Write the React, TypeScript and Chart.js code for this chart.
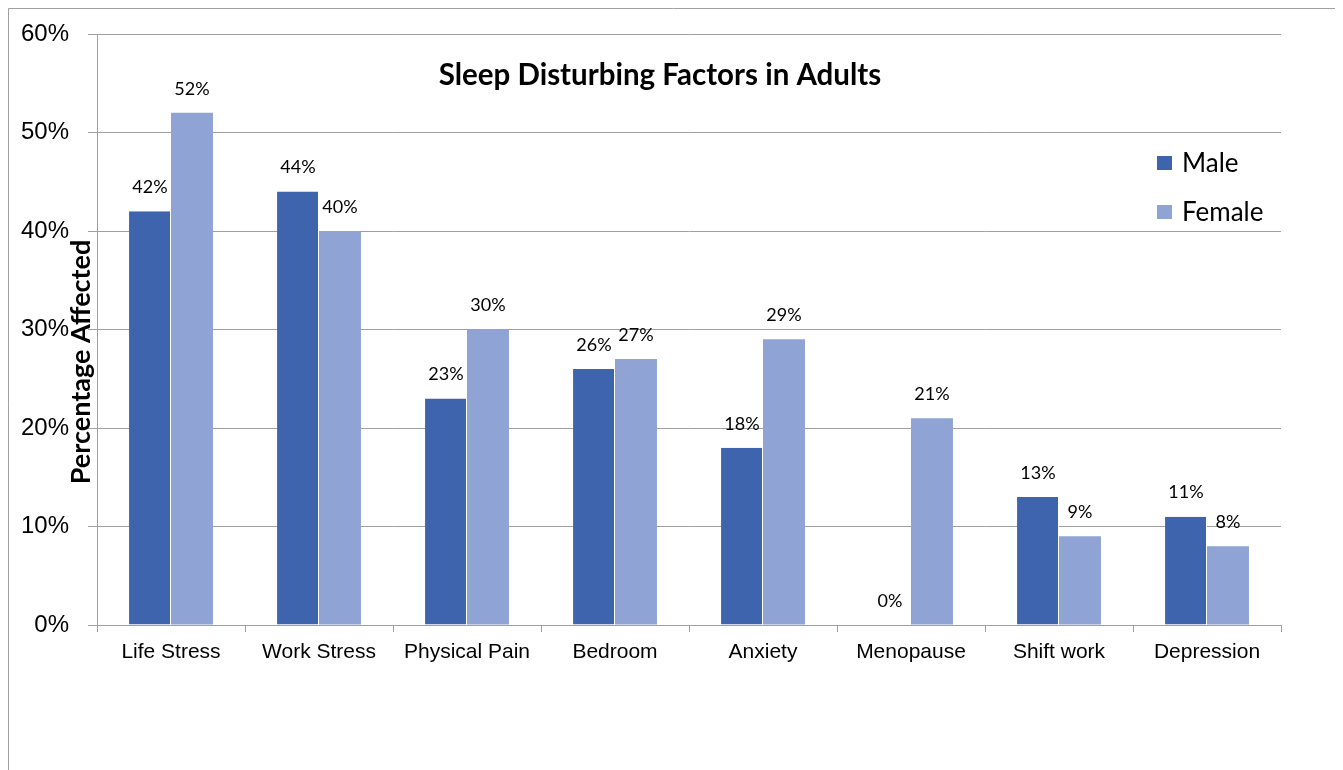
import React, { useEffect, useRef } from "react";
import { Chart, registerables } from "chart.js";

Chart.register(...registerables);

const categories = ["Life Stress", "Work Stress", "Physical Pain", "Bedroom", "Anxiety", "Menopause", "Shift work", "Depression"];
const maleValues = [42, 44, 23, 26, 18, 0, 13, 11];
const femaleValues = [52, 40, 30, 27, 29, 21, 9, 8];
const seriesNames = ["Male", "Female"];
const seriesColors = ["#3D64AD", "#8FA4D5"];
const chartTitle = "Sleep Disturbing Factors in Adults";
const yAxisTitle = "Percentage Affected";

const CAL = "Lato, 'Open Sans', sans-serif";
const ARIAL = "'Liberation Sans', Arial, sans-serif";
const W = 1331;
const H = 790;

const framePlugin = {
  id: "frame",
  beforeDraw(chart: any) {
    const ctx = chart.ctx;
    ctx.save();
    ctx.fillStyle = "#fff";
    ctx.fillRect(0, 0, W, H);
    ctx.strokeStyle = "#A0A0A0";
    ctx.lineWidth = 1;
    ctx.beginPath();
    ctx.moveTo(0.5, H);
    ctx.lineTo(0.5, 0.5);
    ctx.lineTo(W - 0.5, 0.5);
    ctx.lineTo(W - 0.5, H);
    ctx.stroke();
    ctx.restore();
  },
};

const overlayPlugin = {
  id: "overlay",
  afterDatasetsDraw(chart: any) {
    const ctx = chart.ctx;
    ctx.save();
    ctx.fillStyle = "#000";
    ctx.font = `18px ${CAL}`;
    ctx.textAlign = "center";
    ctx.textBaseline = "middle";
    chart.data.datasets.forEach((ds: any, i: number) => {
      const meta = chart.getDatasetMeta(i);
      meta.data.forEach((el: any, j: number) => {
        ctx.fillText(ds.data[j] + "%", el.x, el.y - 24);
      });
    });
    ctx.font = `bold 29.5px ${CAL}`;
    ctx.fillText(chartTitle, 652, 67);
    ctx.font = `26px ${CAL}`;
    ctx.textAlign = "left";
    const ys = [155, 204];
    seriesNames.forEach((n, i) => {
      ctx.fillStyle = seriesColors[i];
      ctx.fillRect(1149, ys[i] - 7, 15, 14);
      ctx.fillStyle = "#000";
      ctx.fillText(n, 1174, ys[i] + 1);
    });
    ctx.translate(73, 354);
    ctx.rotate(-Math.PI / 2);
    ctx.textAlign = "center";
    ctx.font = `bold 27px ${CAL}`;
    ctx.fillText(yAxisTitle, 0, 0);
    ctx.restore();
  },
};

export default function App() {
  const ref = useRef<HTMLCanvasElement>(null);
  useEffect(() => {
    document.documentElement.style.overflow = "hidden";
    document.body.style.overflow = "hidden";
    if (!ref.current) return;
    const chart = new Chart(ref.current, {
      type: "bar",
      data: {
        labels: categories,
        datasets: [
          {
            label: seriesNames[0],
            data: maleValues,
            backgroundColor: seriesColors[0],
            borderColor: "#ffffff",
            borderWidth: { right: 1, top: 0, left: 0, bottom: 0 },
            borderSkipped: false,
            categoryPercentage: 0.567,
            barPercentage: 1,
          },
          {
            label: seriesNames[1],
            data: femaleValues,
            backgroundColor: seriesColors[1],
            borderWidth: 0,
            categoryPercentage: 0.567,
            barPercentage: 1,
          },
        ],
      },
      options: {
        responsive: false,
        animation: false,
        layout: { padding: { left: 0, top: 26, right: 58, bottom: 133 } },
        plugins: {
          legend: { display: false },
          title: { display: false },
          tooltip: { enabled: false },
        },
        scales: {
          x: {
            offset: true,
            grid: { drawOnChartArea: false, drawTicks: true, tickLength: 7, color: "#A0A0A0", offset: true },
            border: { color: "#A0A0A0" },
            ticks: { color: "#000", font: { family: ARIAL, size: 21 }, padding: 8, maxRotation: 0, autoSkip: false },
            afterFit(scale: any) {
              scale.height = 40;
              scale.paddingLeft = 0;
              scale.paddingRight = 0;
            },
          },
          y: {
            min: 0,
            max: 60,
            ticks: {
              stepSize: 10,
              color: "#000",
              font: { family: ARIAL, size: 24 },
              padding: 19,
              callback: (v: any) => v + "%",
            },
            grid: { color: "#A0A0A0", tickLength: 9 },
            border: { color: "#A0A0A0" },
            afterFit(scale: any) {
              scale.width = 89;
              scale.paddingTop = 0;
              scale.paddingBottom = 0;
            },
          },
        },
      },
      plugins: [framePlugin, overlayPlugin],
    });
    return () => chart.destroy();
  }, []);
  return (
    <div style={{ width: W, height: H }}>
      <canvas ref={ref} width={W} height={H} style={{ display: "block" }} />
    </div>
  );
}
